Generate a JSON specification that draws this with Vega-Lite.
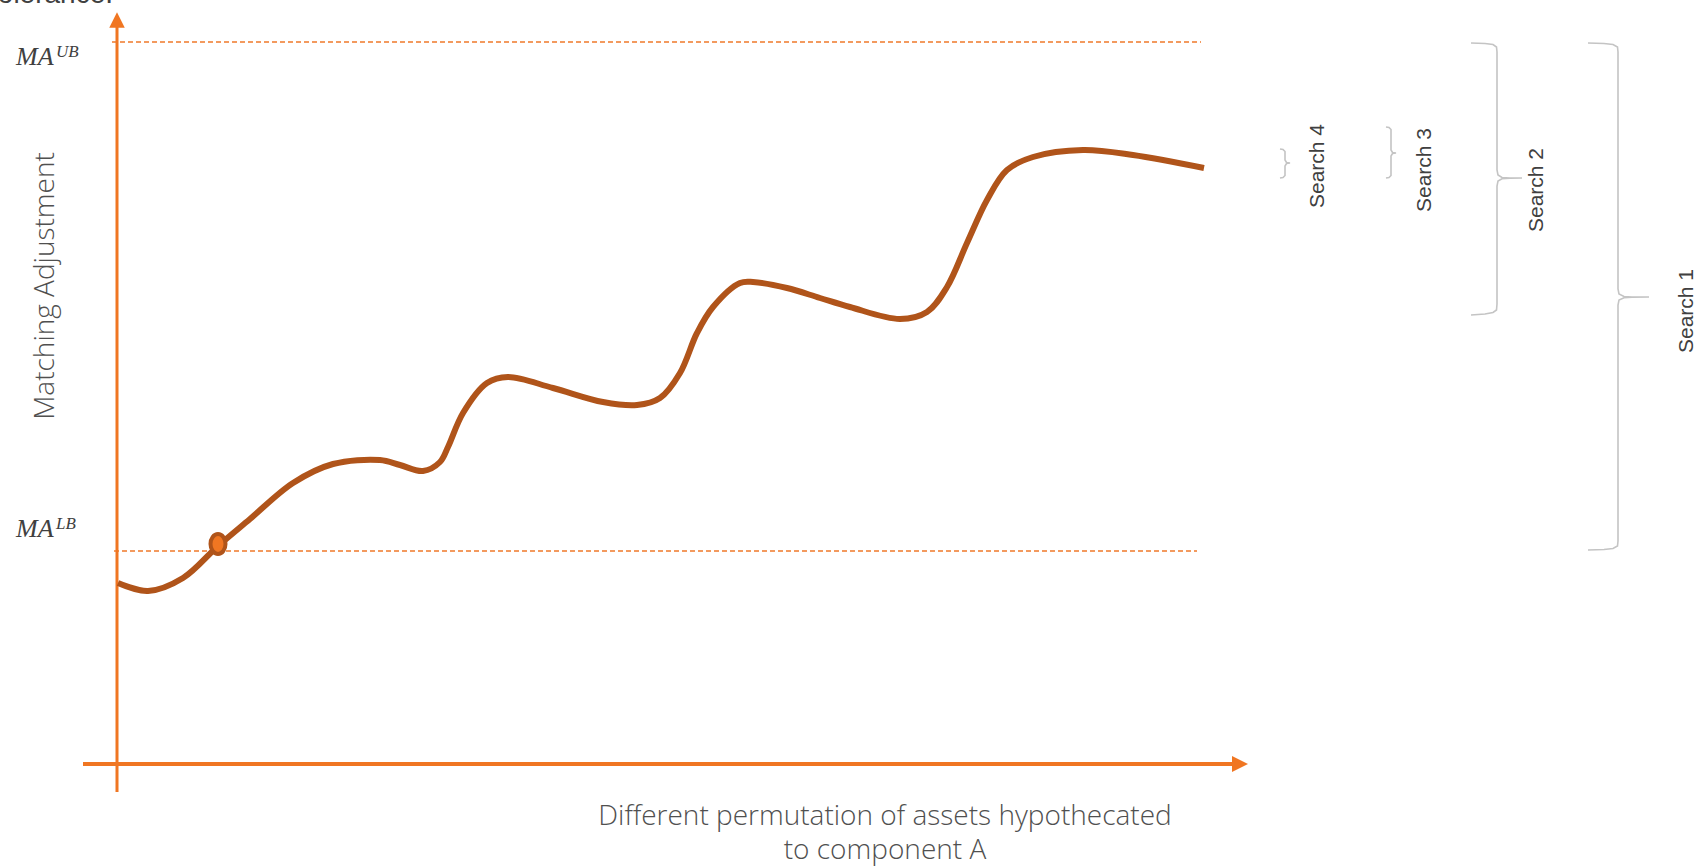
{
  "$schema": "https://vega.github.io/schema/vega-lite/v6.json",
  "width": 1701,
  "height": 866,
  "autosize": {"type": "none"},
  "padding": 0,
  "background": "white",
  "config": {"view": {"stroke": null}, "axis": {"disable": true}},
  "datasets": {
    "curve": [
      {"x": 118, "y": 583}, {"x": 148, "y": 591}, {"x": 183, "y": 578}, {"x": 218, "y": 546},
      {"x": 250, "y": 519}, {"x": 293, "y": 483}, {"x": 333, "y": 464}, {"x": 380, "y": 460},
      {"x": 400, "y": 465}, {"x": 423, "y": 471}, {"x": 440, "y": 462}, {"x": 448, "y": 447},
      {"x": 463, "y": 413}, {"x": 487, "y": 383}, {"x": 508, "y": 377}, {"x": 553, "y": 388},
      {"x": 603, "y": 402}, {"x": 637, "y": 405}, {"x": 660, "y": 398}, {"x": 680, "y": 373},
      {"x": 697, "y": 333}, {"x": 713, "y": 307}, {"x": 740, "y": 283}, {"x": 753, "y": 282},
      {"x": 787, "y": 288}, {"x": 820, "y": 298}, {"x": 850, "y": 307}, {"x": 900, "y": 319},
      {"x": 927, "y": 312}, {"x": 947, "y": 287}, {"x": 967, "y": 243}, {"x": 987, "y": 200},
      {"x": 1007, "y": 170}, {"x": 1033, "y": 157}, {"x": 1083, "y": 150}, {"x": 1133, "y": 155},
      {"x": 1204, "y": 168}
    ],
    "bounds": [
      {"name": "UB", "x": 112, "x2": 1201, "y": 42},
      {"name": "LB", "x": 114, "x2": 1197, "y": 551}
    ],
    "vaxis": [{"x": 117, "y": 792, "y2": 25}],
    "haxis": [{"x": 83, "x2": 1236, "y": 764}],
    "arrowUp": [{"x": 117, "y": 20}],
    "arrowRight": [{"x": 1240, "y": 764}],
    "marker": [{"x": 218, "y": 544}],
    "braces": [
      {"id": "S4", "o": 1, "x": 1280, "y": 149}, {"id": "S4", "o": 2, "x": 1283, "y": 149.5},
      {"id": "S4", "o": 3, "x": 1285, "y": 151.5}, {"id": "S4", "o": 4, "x": 1285, "y": 160},
      {"id": "S4", "o": 5, "x": 1286.5, "y": 162.5}, {"id": "S4", "o": 6, "x": 1290, "y": 163},
      {"id": "S4", "o": 7, "x": 1286.5, "y": 163.5}, {"id": "S4", "o": 8, "x": 1285, "y": 166},
      {"id": "S4", "o": 9, "x": 1285, "y": 175.5}, {"id": "S4", "o": 10, "x": 1283, "y": 177.5},
      {"id": "S4", "o": 11, "x": 1280, "y": 178},
      {"id": "S3", "o": 1, "x": 1386, "y": 127}, {"id": "S3", "o": 2, "x": 1389, "y": 127.5},
      {"id": "S3", "o": 3, "x": 1391, "y": 129.5}, {"id": "S3", "o": 4, "x": 1391, "y": 150},
      {"id": "S3", "o": 5, "x": 1392.5, "y": 152.5}, {"id": "S3", "o": 6, "x": 1396, "y": 153},
      {"id": "S3", "o": 7, "x": 1392.5, "y": 153.5}, {"id": "S3", "o": 8, "x": 1391, "y": 156},
      {"id": "S3", "o": 9, "x": 1391, "y": 175.5}, {"id": "S3", "o": 10, "x": 1389, "y": 177.5},
      {"id": "S3", "o": 11, "x": 1386, "y": 178},
      {"id": "S2", "o": 1, "x": 1471, "y": 43}, {"id": "S2", "o": 2, "x": 1485, "y": 43.5},
      {"id": "S2", "o": 3, "x": 1493, "y": 44.5}, {"id": "S2", "o": 4, "x": 1496.5, "y": 47},
      {"id": "S2", "o": 5, "x": 1497, "y": 52}, {"id": "S2", "o": 6, "x": 1497, "y": 170},
      {"id": "S2", "o": 7, "x": 1498, "y": 175}, {"id": "S2", "o": 8, "x": 1502, "y": 177.5},
      {"id": "S2", "o": 9, "x": 1510, "y": 178}, {"id": "S2", "o": 10, "x": 1522, "y": 178},
      {"id": "S2", "o": 11, "x": 1510, "y": 178.2}, {"id": "S2", "o": 12, "x": 1502, "y": 178.7},
      {"id": "S2", "o": 13, "x": 1498, "y": 181}, {"id": "S2", "o": 14, "x": 1497, "y": 186},
      {"id": "S2", "o": 15, "x": 1497, "y": 304}, {"id": "S2", "o": 16, "x": 1496.5, "y": 310},
      {"id": "S2", "o": 17, "x": 1493, "y": 312.5}, {"id": "S2", "o": 18, "x": 1485, "y": 314},
      {"id": "S2", "o": 19, "x": 1471, "y": 315},
      {"id": "S1", "o": 1, "x": 1588, "y": 43}, {"id": "S1", "o": 2, "x": 1604, "y": 43.5},
      {"id": "S1", "o": 3, "x": 1613, "y": 44.5}, {"id": "S1", "o": 4, "x": 1617.5, "y": 47},
      {"id": "S1", "o": 5, "x": 1618, "y": 52}, {"id": "S1", "o": 6, "x": 1618, "y": 289},
      {"id": "S1", "o": 7, "x": 1619, "y": 294}, {"id": "S1", "o": 8, "x": 1624, "y": 296.5},
      {"id": "S1", "o": 9, "x": 1632, "y": 297}, {"id": "S1", "o": 10, "x": 1649, "y": 297},
      {"id": "S1", "o": 11, "x": 1632, "y": 297.2}, {"id": "S1", "o": 12, "x": 1624, "y": 297.7},
      {"id": "S1", "o": 13, "x": 1619, "y": 300}, {"id": "S1", "o": 14, "x": 1618, "y": 305},
      {"id": "S1", "o": 15, "x": 1618, "y": 541}, {"id": "S1", "o": 16, "x": 1617.5, "y": 546},
      {"id": "S1", "o": 17, "x": 1613, "y": 548.5}, {"id": "S1", "o": 18, "x": 1604, "y": 549.5},
      {"id": "S1", "o": 19, "x": 1588, "y": 550}
    ],
    "searchLabels": [
      {"label": "Search 4", "x": 1318, "y": 166},
      {"label": "Search 3", "x": 1425, "y": 170},
      {"label": "Search 2", "x": 1537, "y": 190},
      {"label": "Search 1", "x": 1687, "y": 311}
    ],
    "yTitle": [{"label": "Matching Adjustment", "x": 46, "y": 286}],
    "xTitle": [
      {"label": "Different permutation of assets hypothecated\nto component A", "x": 885, "y": 825}
    ],
    "maMain": [{"label": "MA", "x": 16, "y": 65}, {"label": "MA", "x": 16, "y": 537}],
    "maSup": [{"label": "UB", "x": 56, "y": 57}, {"label": "LB", "x": 56, "y": 529}],
    "topText": [{"label": "tolerance.", "x": 113, "y": 3}]
  },
  "layer": [
    {
      "data": {"name": "bounds"},
      "mark": {"type": "rule", "color": "#F07A2A", "strokeWidth": 1.5, "strokeDash": [5, 3]},
      "encoding": {
        "x": {"field": "x", "type": "quantitative", "scale": {"domain": [0, 1701], "nice": false, "zero": false}},
        "x2": {"field": "x2"},
        "y": {"field": "y", "type": "quantitative", "scale": {"domain": [0, 866], "reverse": true, "nice": false, "zero": false}}
      }
    },
    {
      "data": {"name": "vaxis"},
      "mark": {"type": "rule", "color": "#F07622", "strokeWidth": 3},
      "encoding": {
        "x": {"field": "x", "type": "quantitative", "scale": {"domain": [0, 1701], "nice": false, "zero": false}},
        "y": {"field": "y", "type": "quantitative", "scale": {"domain": [0, 866], "reverse": true, "nice": false, "zero": false}},
        "y2": {"field": "y2"}
      }
    },
    {
      "data": {"name": "haxis"},
      "mark": {"type": "rule", "color": "#F07622", "strokeWidth": 4},
      "encoding": {
        "x": {"field": "x", "type": "quantitative", "scale": {"domain": [0, 1701], "nice": false, "zero": false}},
        "x2": {"field": "x2"},
        "y": {"field": "y", "type": "quantitative", "scale": {"domain": [0, 866], "reverse": true, "nice": false, "zero": false}}
      }
    },
    {
      "data": {"name": "arrowUp"},
      "mark": {"type": "point", "shape": "M0,-1L1,1L-1,1Z", "size": 240, "filled": true, "color": "#F07622", "opacity": 1},
      "encoding": {
        "x": {"field": "x", "type": "quantitative", "scale": {"domain": [0, 1701], "nice": false, "zero": false}},
        "y": {"field": "y", "type": "quantitative", "scale": {"domain": [0, 866], "reverse": true, "nice": false, "zero": false}}
      }
    },
    {
      "data": {"name": "arrowRight"},
      "mark": {"type": "point", "shape": "M1,0L-1,-1L-1,1Z", "size": 256, "filled": true, "color": "#F07622", "opacity": 1},
      "encoding": {
        "x": {"field": "x", "type": "quantitative", "scale": {"domain": [0, 1701], "nice": false, "zero": false}},
        "y": {"field": "y", "type": "quantitative", "scale": {"domain": [0, 866], "reverse": true, "nice": false, "zero": false}}
      }
    },
    {
      "data": {"name": "curve"},
      "mark": {"type": "line", "color": "#B0541A", "strokeWidth": 6, "interpolate": "catmull-rom", "strokeCap": "butt"},
      "encoding": {
        "x": {"field": "x", "type": "quantitative", "scale": {"domain": [0, 1701], "nice": false, "zero": false}},
        "y": {"field": "y", "type": "quantitative", "scale": {"domain": [0, 866], "reverse": true, "nice": false, "zero": false}}
      }
    },
    {
      "data": {"name": "marker"},
      "mark": {"type": "point", "shape": "M0,-1A0.75,1 0 1,1 0,1A0.75,1 0 1,1 0,-1Z", "size": 400, "filled": true, "fill": "#F07622", "stroke": "#B0541A", "strokeWidth": 4, "opacity": 1},
      "encoding": {
        "x": {"field": "x", "type": "quantitative", "scale": {"domain": [0, 1701], "nice": false, "zero": false}},
        "y": {"field": "y", "type": "quantitative", "scale": {"domain": [0, 866], "reverse": true, "nice": false, "zero": false}}
      }
    },
    {
      "data": {"name": "braces"},
      "mark": {"type": "line", "color": "#C4C4C4", "strokeWidth": 1.6, "interpolate": "linear"},
      "encoding": {
        "x": {"field": "x", "type": "quantitative", "scale": {"domain": [0, 1701], "nice": false, "zero": false}},
        "y": {"field": "y", "type": "quantitative", "scale": {"domain": [0, 866], "reverse": true, "nice": false, "zero": false}},
        "detail": {"field": "id"},
        "order": {"field": "o", "type": "quantitative"}
      }
    },
    {
      "data": {"name": "searchLabels"},
      "mark": {"type": "text", "angle": 270, "align": "center", "baseline": "middle", "font": "Liberation Sans", "fontSize": 21, "color": "#404040"},
      "encoding": {
        "x": {"field": "x", "type": "quantitative", "scale": {"domain": [0, 1701], "nice": false, "zero": false}},
        "y": {"field": "y", "type": "quantitative", "scale": {"domain": [0, 866], "reverse": true, "nice": false, "zero": false}},
        "text": {"field": "label"}
      }
    },
    {
      "data": {"name": "yTitle"},
      "mark": {"type": "text", "angle": 270, "align": "center", "baseline": "middle", "font": "Open Sans", "fontWeight": 300, "fontSize": 28, "color": "#505050"},
      "encoding": {
        "x": {"field": "x", "type": "quantitative", "scale": {"domain": [0, 1701], "nice": false, "zero": false}},
        "y": {"field": "y", "type": "quantitative", "scale": {"domain": [0, 866], "reverse": true, "nice": false, "zero": false}},
        "text": {"field": "label"}
      }
    },
    {
      "data": {"name": "xTitle"},
      "mark": {"type": "text", "align": "center", "baseline": "alphabetic", "lineBreak": "\n", "lineHeight": 34, "font": "Open Sans", "fontWeight": 300, "fontSize": 28, "color": "#505050"},
      "encoding": {
        "x": {"field": "x", "type": "quantitative", "scale": {"domain": [0, 1701], "nice": false, "zero": false}},
        "y": {"field": "y", "type": "quantitative", "scale": {"domain": [0, 866], "reverse": true, "nice": false, "zero": false}},
        "text": {"field": "label"}
      }
    },
    {
      "data": {"name": "maMain"},
      "mark": {"type": "text", "align": "left", "baseline": "alphabetic", "font": "Liberation Serif", "fontStyle": "italic", "fontSize": 26, "color": "#404040"},
      "encoding": {
        "x": {"field": "x", "type": "quantitative", "scale": {"domain": [0, 1701], "nice": false, "zero": false}},
        "y": {"field": "y", "type": "quantitative", "scale": {"domain": [0, 866], "reverse": true, "nice": false, "zero": false}},
        "text": {"field": "label"}
      }
    },
    {
      "data": {"name": "maSup"},
      "mark": {"type": "text", "align": "left", "baseline": "alphabetic", "font": "Liberation Serif", "fontStyle": "italic", "fontSize": 17, "color": "#404040"},
      "encoding": {
        "x": {"field": "x", "type": "quantitative", "scale": {"domain": [0, 1701], "nice": false, "zero": false}},
        "y": {"field": "y", "type": "quantitative", "scale": {"domain": [0, 866], "reverse": true, "nice": false, "zero": false}},
        "text": {"field": "label"}
      }
    },
    {
      "data": {"name": "topText"},
      "mark": {"type": "text", "align": "right", "baseline": "alphabetic", "font": "Liberation Sans", "fontSize": 28, "color": "#404040"},
      "encoding": {
        "x": {"field": "x", "type": "quantitative", "scale": {"domain": [0, 1701], "nice": false, "zero": false}},
        "y": {"field": "y", "type": "quantitative", "scale": {"domain": [0, 866], "reverse": true, "nice": false, "zero": false}},
        "text": {"field": "label"}
      }
    }
  ]
}
